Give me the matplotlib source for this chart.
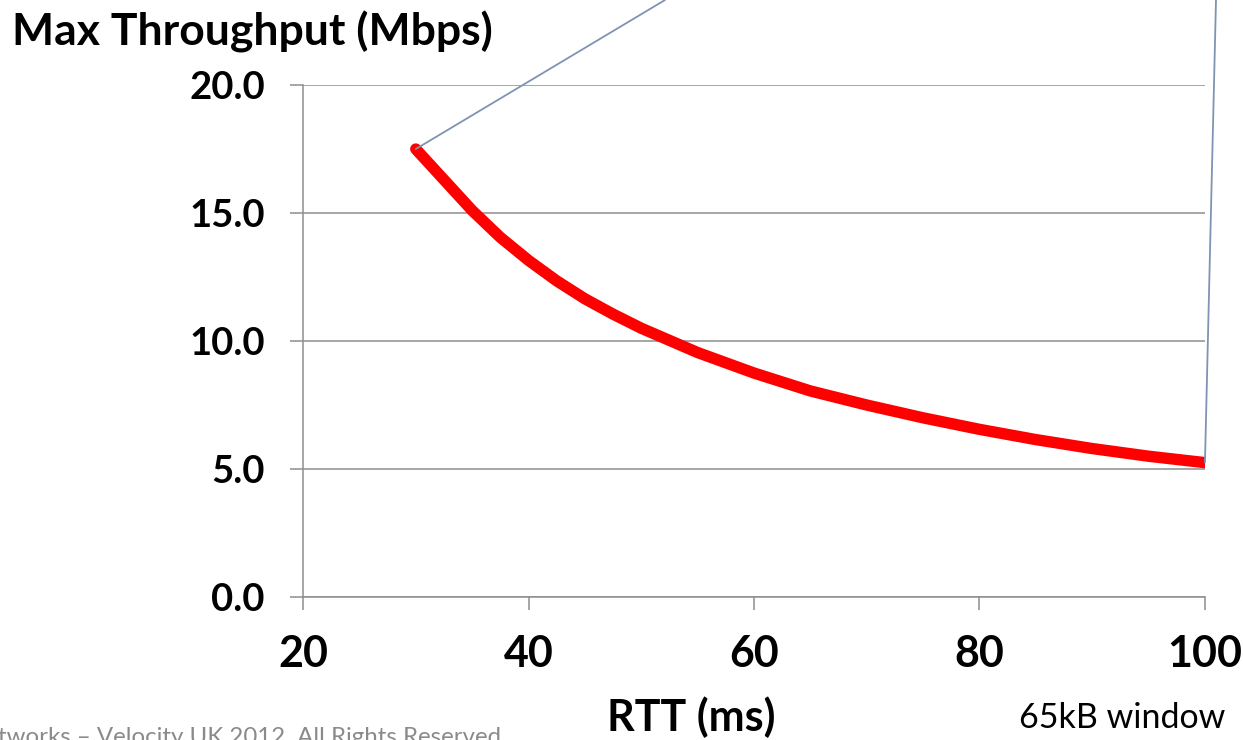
import matplotlib.pyplot as plt

# RTT (ms) vs max TCP throughput (Mbps) for a 65kB receive window
rtt_ms = [30, 32.5, 35, 37.5, 40, 42.5, 45, 47.5, 50, 55, 60, 65, 70, 75, 80,
          85, 90, 95, 100]
throughput_mbps = [17.5, 16.3, 15.1, 14.05, 13.15, 12.35, 11.65, 11.05, 10.5,
                   9.55, 8.75, 8.05, 7.5, 7.0, 6.55, 6.15, 5.8, 5.5, 5.25]

x_ticks = [20, 40, 60, 80, 100]
y_ticks = [0.0, 5.0, 10.0, 15.0, 20.0]

plt.rcParams['font.family'] = ['Lato', 'DejaVu Sans']

grid_col = '#8e8e8e'
fig = plt.figure(figsize=(12.43, 7.40), dpi=100)
ax = fig.add_axes([0.2438, 0.1932, 0.7256, 0.6919])

ax.plot(rtt_ms, throughput_mbps, color='#ff0000', lw=8.2,
        solid_capstyle='round', solid_joinstyle='round', zorder=3)

ax.set_xlim(20, 100)
ax.set_ylim(0, 20)
ax.set_xticks(x_ticks)
ax.set_yticks(y_ticks)
ax.set_xticklabels([str(t) for t in x_ticks], fontsize=31, fontweight='bold')
ax.set_yticklabels([f'{t:.1f}' for t in y_ticks], fontsize=27.5, fontweight='bold')
ax.tick_params(axis='both', direction='out', length=9.5, width=1.1, color=grid_col)
ax.tick_params(axis='y', pad=18)
ax.tick_params(axis='x', pad=17)

ax.grid(axis='y', color=grid_col, lw=1.1)
for side in ['top', 'right']:
    ax.spines[side].set_visible(False)
for side in ['left', 'bottom']:
    ax.spines[side].set_color(grid_col)
    ax.spines[side].set_linewidth(1.1)

# callout leader lines running up off the top of the figure
lead = dict(arrowstyle='-', color='#7f93b2', lw=1.3, shrinkA=0, shrinkB=0)
ax.annotate('', xy=(rtt_ms[0], throughput_mbps[0]), xycoords='data',
            xytext=(665 / 1243, 1.0), textcoords='figure fraction',
            arrowprops=lead, annotation_clip=False)
ax.annotate('', xy=(rtt_ms[-1], throughput_mbps[-1]), xycoords='data',
            xytext=(1216 / 1243, 1.0), textcoords='figure fraction',
            arrowprops=lead, annotation_clip=False)

fig.text(12 / 1243, 1 - 32 / 740, 'Max Throughput (Mbps)', fontsize=32,
         fontweight='bold', ha='left', va='center')
fig.text(691 / 1243, 1 - 717 / 740, 'RTT (ms)', fontsize=31,
         fontweight='bold', ha='center', va='center')
fig.text(1122 / 1243, 1 - 718 / 740, '65kB window', fontsize=24.5,
         ha='center', va='center')
# footer runs off the bottom-left edge of the slide
fig.text(-2 / 1243, 1 - 744 / 740, 'tworks \u2013 Velocity UK 2012. All Rights Reserved',
         fontsize=17.3, color='#8a8a8a', ha='left', va='baseline')

fig.savefig('out.png', dpi=100, facecolor='white')
